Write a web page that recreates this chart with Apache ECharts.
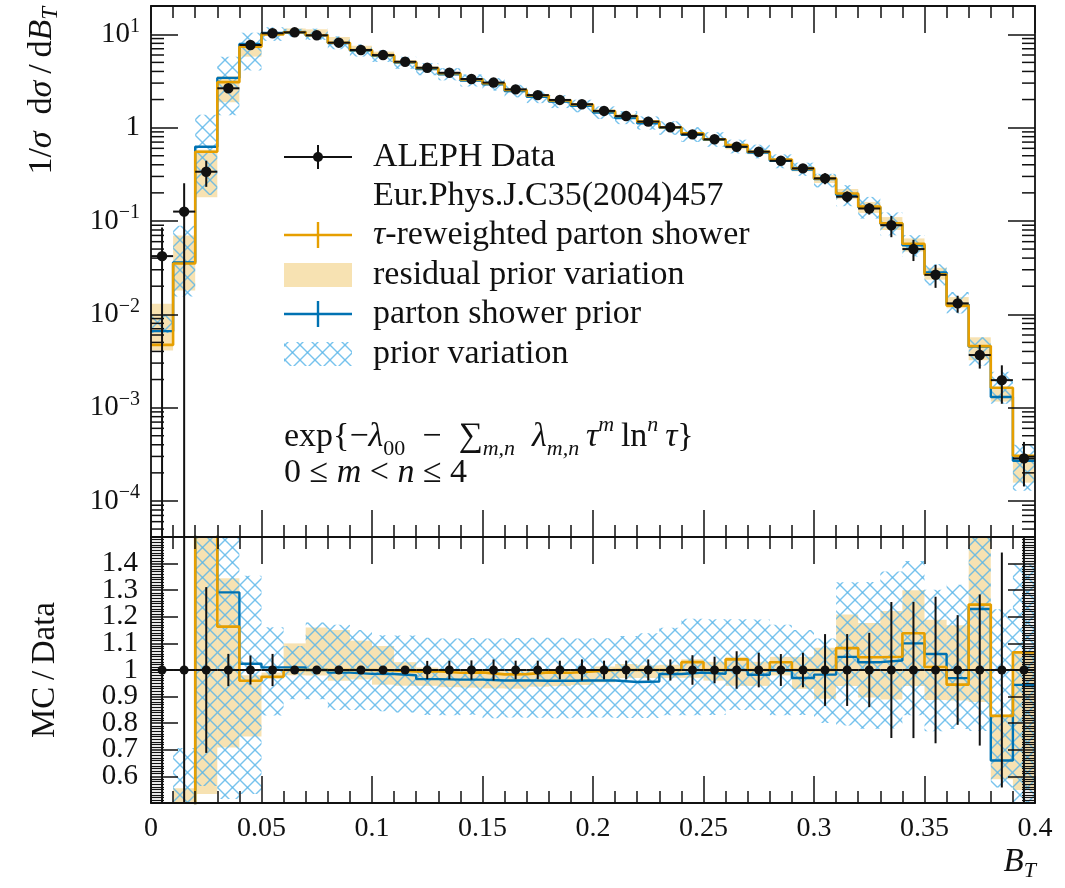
<!DOCTYPE html>
<html>
<head>
<meta charset="utf-8">
<script src="https://cdn.jsdelivr.net/npm/echarts/dist/echarts.min.js"></script>
<style>
  html, body { margin: 0; padding: 0; background: #ffffff; }
  #chart { width: 1065px; height: 888px; }
</style>
</head>
<body>
<div id="chart"></div>
<script>
// Thrust-broadening B_T distribution: ALEPH data vs. parton shower predictions

const binEdges = [0, 0.01, 0.02, 0.03, 0.04, 0.05, 0.06, 0.07, 0.08, 0.09, 0.1,
  0.11, 0.12, 0.13, 0.14, 0.15, 0.16, 0.17, 0.18, 0.19, 0.2,
  0.21, 0.22, 0.23, 0.24, 0.25, 0.26, 0.27, 0.28, 0.29, 0.3,
  0.31, 0.32, 0.33, 0.34, 0.35, 0.36, 0.37, 0.38, 0.39, 0.4];

// ALEPH Data, Eur.Phys.J.C35(2004)457
const dataVal = [0.042, 0.126, 0.337, 2.64, 7.68, 10.25, 10.5, 9.76, 8.13, 6.79,
  5.99, 5.08, 4.38, 3.87, 3.32, 3.04, 2.57, 2.23, 1.98, 1.78,
  1.51, 1.33, 1.16, 1.01, 0.847, 0.75, 0.624, 0.552, 0.442, 0.366,
  0.286, 0.182, 0.136, 0.090, 0.050, 0.0265, 0.0131, 0.00366, 0.00197, 0.000286];
const dataErr = [0.043, 0.128, 0.105, 0.16, 0.42, 0.62, 0.12, 0.1, 0.08, 0.07,
  0.06, 0.05, 0.15, 0.135, 0.12, 0.12, 0.09, 0.078, 0.069, 0.071,
  0.053, 0.047, 0.046, 0.04, 0.047, 0.0375, 0.044, 0.036, 0.0265, 0.0238,
  0.0386, 0.0246, 0.019, 0.023, 0.0128, 0.0073, 0.0027, 0.00104, 0.00087, 0.000143];

// tau-reweighted parton shower and its residual prior variation
const rwVal = [0.0047, 0.035, 0.552, 3.07, 7.37, 9.99, 10.5, 9.76, 8.13, 6.79,
  5.98, 5.05, 4.36, 3.83, 3.29, 2.99, 2.53, 2.21, 1.96, 1.77,
  1.51, 1.33, 1.16, 1.01, 0.872, 0.75, 0.649, 0.552, 0.455, 0.366,
  0.286, 0.197, 0.1425, 0.0945, 0.0569, 0.0268, 0.01238, 0.00456, 0.00163, 0.000305];
const rwLo = [0.0041, 0.018, 0.18, 1.87, 5.76, 9.9, 10.29, 9.56, 7.80, 6.55,
  5.66, 4.78, 4.12, 3.62, 3.10, 2.83, 2.39, 2.09, 1.86, 1.68,
  1.44, 1.29, 1.125, 0.98, 0.822, 0.72, 0.587, 0.519, 0.433, 0.340,
  0.255, 0.171, 0.122, 0.080, 0.047, 0.0235, 0.0116, 0.00322, 0.00116, 0.000157];
const rwHi = [0.013, 0.07, 0.58, 3.55, 7.53, 10.15, 11.55, 11.32, 9.35, 7.54,
  6.53, 5.23, 4.42, 3.87, 3.32, 3.04, 2.57, 2.23, 1.98, 1.78,
  1.53, 1.36, 1.18, 1.03, 0.881, 0.773, 0.655, 0.569, 0.464, 0.384,
  0.310, 0.220, 0.160, 0.110, 0.065, 0.0315, 0.0153, 0.00567, 0.00164, 0.000306];

// parton shower prior and its prior variation
const psVal = [0.0066, 0.036, 0.623, 3.41, 7.86, 10.35, 10.6, 9.76, 8.05, 6.69,
  5.90, 4.98, 4.23, 3.73, 3.20, 2.92, 2.47, 2.14, 1.90, 1.71,
  1.45, 1.27, 1.11, 0.995, 0.839, 0.739, 0.624, 0.542, 0.441, 0.355,
  0.281, 0.191, 0.140, 0.0932, 0.055, 0.0281, 0.0127, 0.0045, 0.0013, 0.00027];
const psLo = [0.0063, 0.0155, 0.19, 1.36, 4.1, 8.5, 9.35, 8.69, 6.91, 5.77,
  5.06, 4.27, 3.64, 3.21, 2.76, 2.49, 2.11, 1.83, 1.62, 1.46,
  1.24, 1.09, 0.951, 0.838, 0.703, 0.623, 0.530, 0.469, 0.367, 0.304,
  0.229, 0.144, 0.106, 0.0702, 0.0415, 0.0204, 0.0102, 0.00282, 0.0011, 0.000129];
const psHi = [0.0099, 0.089, 1.37, 5.75, 10.4, 11.9, 11.45, 11.5, 9.51, 7.81,
  6.77, 5.74, 4.91, 4.33, 3.72, 3.40, 2.88, 2.50, 2.22, 1.99,
  1.69, 1.50, 1.32, 1.17, 1.01, 0.893, 0.743, 0.657, 0.517, 0.421,
  0.320, 0.242, 0.181, 0.1233, 0.0705, 0.0345, 0.0173, 0.00567, 0.00242, 0.0004];

// axis tick labels
const xTickLabels = ['0', '0.05', '0.1', '0.15', '0.2', '0.25', '0.3', '0.35', '0.4'];
const ratioTickLabels = ['0.6', '0.7', '0.8', '0.9', '1', '1.1', '1.2', '1.3', '1.4'];
const decadeLabels = { '-4': '10{sup|−4}', '-3': '10{sup|−3}', '-2': '10{sup|−2}',
  '-1': '10{sup|−1}', '0': '1', '1': '10{sup|1}' };

const FONT = '"Liberation Serif", "DejaVu Serif", serif';
const INK = '#111111';
const ORANGE = '#E69F00';
const BLUE = '#0072B2';
const BEIGE = 'rgba(230,159,0,0.30)';

// cross-hatch tile for the prior variation band
const hatchTile = (function () {
  const s = 15;
  const c = document.createElement('canvas');
  c.width = s; c.height = s;
  const g = c.getContext('2d');
  g.strokeStyle = 'rgba(86,180,233,0.8)';
  g.lineWidth = 1.4;
  [-s, 0, s].forEach(function (d) {
    g.beginPath(); g.moveTo(d, 0); g.lineTo(d + s, s); g.stroke();
    g.beginPath(); g.moveTo(d + s, 0); g.lineTo(d, s); g.stroke();
  });
  return c;
})();
const HATCH = { image: hatchTile, repeat: 'repeat' };

// ---------- data shaping ----------
function stepData(vals, norm) {
  return binEdges.map(function (e, i) {
    const k = Math.min(i, vals.length - 1);
    return [e, norm ? vals[k] / dataVal[k] : vals[k]];
  });
}
function bandData(lo, hi, norm) {
  return lo.map(function (l, i) {
    return [binEdges[i], binEdges[i + 1],
      norm ? l / dataVal[i] : l, norm ? hi[i] / dataVal[i] : hi[i]];
  });
}
function pointData(norm) {
  return dataVal.map(function (v, i) {
    return [binEdges[i], binEdges[i + 1], norm ? 1 : v, norm ? dataErr[i] / v : dataErr[i]];
  });
}

// ---------- renderers ----------
function renderBand(fill) {
  return function (params, api) {
    const cs = params.coordSys;
    const a = api.coord([api.value(0), api.value(3)]);
    const b = api.coord([api.value(1), api.value(2)]);
    let yBot = b[1];
    if (!isFinite(yBot)) yBot = cs.y + cs.height;
    const r = echarts.graphic.clipRectByRect(
      { x: a[0], y: a[1], width: b[0] - a[0], height: yBot - a[1] },
      { x: cs.x, y: cs.y, width: cs.width, height: cs.height });
    if (!r) return null;
    return { type: 'rect', shape: r, style: { fill: fill } };
  };
}

function renderPoints(isLog, radius) {
  return function (params, api) {
    const cs = params.coordSys;
    const x0 = api.value(0), x1 = api.value(1), v = api.value(2), e = api.value(3);
    const xm = (x0 + x1) / 2;
    const c = api.coord([xm, v]);
    const l = api.coord([x0, v]);
    const r = api.coord([x1, v]);
    const yMin = cs.y, yMax = cs.y + cs.height;
    let yt = api.coord([xm, v + e])[1];
    let yb = (isLog && v - e <= 0) ? yMax : api.coord([xm, v - e])[1];
    yt = Math.max(yMin, Math.min(yMax, yt));
    yb = Math.max(yMin, Math.min(yMax, yb));
    const st = { stroke: INK, lineWidth: 2 };
    return {
      type: 'group',
      children: [
        { type: 'line', shape: { x1: l[0], y1: c[1], x2: r[0], y2: c[1] }, style: st },
        { type: 'line', shape: { x1: c[0], y1: yt, x2: c[0], y2: yb }, style: st },
        { type: 'circle', shape: { cx: c[0], cy: c[1], r: radius }, style: { fill: INK } }
      ]
    };
  };
}

// minor ticks 2..9 of each decade on both sides of the log panel
const logMinor = [];
for (let d = -5; d <= 1; d++) {
  for (let m = 2; m <= 9; m++) logMinor.push([0, m * Math.pow(10, d)]);
}
function renderLogMinor(params, api) {
  const cs = params.coordSys;
  const y = api.coord([0, api.value(1)])[1];
  if (!(y > cs.y + 1 && y < cs.y + cs.height - 1)) return null;
  const st = { stroke: INK, lineWidth: 1.5 };
  return {
    type: 'group',
    children: [
      { type: 'line', shape: { x1: cs.x, y1: y, x2: cs.x + 13, y2: y }, style: st },
      { type: 'line', shape: { x1: cs.x + cs.width - 13, y1: y, x2: cs.x + cs.width, y2: y }, style: st }
    ]
  };
}

// ---------- axes ----------
const lineSt = { color: INK, width: 1.8 };
const tickSt = { color: INK, width: 1.5 };

function xAxisCfg(grid, pos, labels) {
  return {
    type: 'value', gridIndex: grid, position: pos, min: 0, max: 0.4, interval: 0.05, z: 10,
    axisLine: { show: true, onZero: false, lineStyle: lineSt },
    axisTick: { show: true, inside: true, length: 27, lineStyle: tickSt },
    minorTick: { show: true, splitNumber: 5, length: 12, lineStyle: tickSt },
    splitLine: { show: false }, minorSplitLine: { show: false },
    axisLabel: labels ? {
      show: true, margin: 12, color: INK, fontFamily: FONT, fontSize: 28,
      formatter: function (v) { return xTickLabels[Math.round(v / 0.05)]; }
    } : { show: false }
  };
}

function logYAxisCfg(pos, labels) {
  return {
    type: 'log', logBase: 10, gridIndex: 0, position: pos, z: 10,
    min: 4.11e-5, max: 20.1,
    axisLine: { show: true, onZero: false, lineStyle: lineSt },
    axisTick: { show: true, inside: true, length: 27, lineStyle: tickSt },
    minorTick: { show: false },
    splitLine: { show: false },
    axisLabel: labels ? {
      show: true, margin: 11, color: INK, fontFamily: FONT, fontSize: 29, lineHeight: 36,
      showMinLabel: false, showMaxLabel: false,
      formatter: function (v) {
        const e = Math.log10(v);
        const k = Math.round(e);
        if (Math.abs(e - k) > 1e-6) return '';
        return decadeLabels[String(k)] || '';
      },
      rich: { sup: { fontFamily: FONT, fontSize: 20, verticalAlign: 'top', lineHeight: 20, color: INK } }
    } : { show: false }
  };
}

function ratioYAxisCfg(pos, labels) {
  return {
    type: 'value', gridIndex: 1, position: pos, min: 0.5, max: 1.5, interval: 0.1, z: 10,
    axisLine: { show: true, onZero: false, lineStyle: lineSt },
    axisTick: { show: true, inside: true, length: 27, lineStyle: tickSt },
    minorTick: { show: true, splitNumber: 10, length: 13, lineStyle: { color: INK, width: 1.2 } },
    splitLine: { show: false }, minorSplitLine: { show: false },
    axisLabel: labels ? {
      show: true, margin: 13, color: INK, fontFamily: FONT, fontSize: 29,
      formatter: function (v) {
        const k = Math.round((v - 0.6) / 0.1);
        if (v < 0.55 || v > 1.45) return '';
        return ratioTickLabels[k] || '';
      }
    } : { show: false }
  };
}

// ---------- series ----------
const series = [];
function addPanel(xi, yi, norm, isLog) {
  series.push({
    type: 'custom', xAxisIndex: xi, yAxisIndex: yi, z: 2, silent: true,
    renderItem: renderBand(BEIGE), data: bandData(rwLo, rwHi, norm),
    encode: { x: [0, 1], y: [2, 3] }
  });
  series.push({
    type: 'custom', xAxisIndex: xi, yAxisIndex: yi, z: 3, silent: true,
    renderItem: renderBand(HATCH), data: bandData(psLo, psHi, norm),
    encode: { x: [0, 1], y: [2, 3] }
  });
  series.push({
    type: 'line', xAxisIndex: xi, yAxisIndex: yi, z: 4, silent: true,
    step: 'end', showSymbol: false, symbol: 'none',
    lineStyle: { color: BLUE, width: 2.4 }, data: stepData(psVal, norm)
  });
  series.push({
    type: 'line', xAxisIndex: xi, yAxisIndex: yi, z: 5, silent: true,
    step: 'end', showSymbol: false, symbol: 'none',
    lineStyle: { color: ORANGE, width: 2.6 }, data: stepData(rwVal, norm)
  });
  series.push({
    type: 'custom', xAxisIndex: xi, yAxisIndex: yi, z: 6, silent: true,
    renderItem: renderPoints(isLog, norm ? 4.5 : 5.2), data: pointData(norm),
    encode: { x: [0, 1], y: [2] }
  });
}
addPanel(0, 0, false, true);
addPanel(2, 2, true, false);
series.push({
  type: 'custom', xAxisIndex: 0, yAxisIndex: 0, z: 11, silent: true,
  renderItem: renderLogMinor, data: logMinor, encode: { x: 0, y: 1 }
});

// ---------- legend and annotations ----------
const FS = 34;
const TXT = { fontFamily: FONT, fontSize: FS, fill: INK, verticalAlign: 'middle', align: 'left' };
function txt(x, y, text, extra) {
  return { type: 'text', x: x, y: y, z: 20, style: Object.assign({ text: text }, TXT, extra || {}) };
}
const italic = { fontFamily: FONT, fontStyle: 'italic', fontSize: FS, fill: INK };
const hx0 = 284, hx1 = 352, hxm = 318, tx = 373;
const rowY = [157, 196, 235, 275, 314, 354];

const graphics = [
  // ALEPH Data handle
  { type: 'line', z: 20, shape: { x1: hx0, y1: rowY[0], x2: hx1, y2: rowY[0] }, style: { stroke: INK, lineWidth: 2 } },
  { type: 'line', z: 20, shape: { x1: hxm, y1: rowY[0] - 12, x2: hxm, y2: rowY[0] + 12 }, style: { stroke: INK, lineWidth: 2 } },
  { type: 'circle', z: 20, shape: { cx: hxm, cy: rowY[0], r: 5 }, style: { fill: INK } },
  txt(tx, rowY[0], 'ALEPH Data'),
  txt(tx, rowY[1], 'Eur.Phys.J.C35(2004)457'),
  // reweighted shower handle
  { type: 'line', z: 20, shape: { x1: hx0, y1: rowY[2], x2: hx1, y2: rowY[2] }, style: { stroke: ORANGE, lineWidth: 2.4 } },
  { type: 'line', z: 20, shape: { x1: hxm, y1: rowY[2] - 13, x2: hxm, y2: rowY[2] + 13 }, style: { stroke: ORANGE, lineWidth: 2.4 } },
  txt(tx, rowY[2], '{i|τ}-reweighted parton shower', { rich: { i: italic } }),
  // residual band handle
  { type: 'rect', z: 20, shape: { x: hx0, y: rowY[3] - 12, width: hx1 - hx0, height: 24 }, style: { fill: BEIGE } },
  txt(tx, rowY[3], 'residual prior variation'),
  // prior handle
  { type: 'line', z: 20, shape: { x1: hx0, y1: rowY[4], x2: hx1, y2: rowY[4] }, style: { stroke: BLUE, lineWidth: 2.4 } },
  { type: 'line', z: 20, shape: { x1: hxm, y1: rowY[4] - 13, x2: hxm, y2: rowY[4] + 13 }, style: { stroke: BLUE, lineWidth: 2.4 } },
  txt(tx, rowY[4], 'parton shower prior'),
  // prior variation handle
  { type: 'rect', z: 20, shape: { x: hx0, y: rowY[5] - 12, width: hx1 - hx0, height: 24 }, style: { fill: HATCH } },
  txt(tx, rowY[5], 'prior variation'),
  // weight function
  txt(284, 437, 'exp{−{i|λ}{sub|00}\u2002−\u2002∑{isub|m,n}\u2002{i|λ}{isub|m,n}\u2009{i|τ}{isup|m}\u2009ln{isup|n}\u2009{i|τ}}', {
    lineHeight: 46,
    rich: {
      i: Object.assign({}, italic, { lineHeight: 46 }),
      sub: { fontFamily: FONT, fontSize: 22, fill: INK, verticalAlign: 'bottom', lineHeight: 22 },
      isub: { fontFamily: FONT, fontStyle: 'italic', fontSize: 22, fill: INK, verticalAlign: 'bottom', lineHeight: 22 },
      isup: { fontFamily: FONT, fontStyle: 'italic', fontSize: 22, fill: INK, verticalAlign: 'top', lineHeight: 22 }
    }
  }),
  txt(284, 473, '0 ≤ {i|m} < {i|n} ≤ 4', { rich: { i: italic } }),
  // axis titles
  {
    type: 'text', x: 42, y: 7, rotation: Math.PI / 2, z: 20,
    style: {
      text: '1/{i|σ}\u2002d{i|σ}\u2009/\u2009d{i|B}{sub|T}', fontFamily: FONT, fontSize: 34, fill: INK,
      align: 'right', verticalAlign: 'middle', lineHeight: 40,
      rich: {
        i: Object.assign({}, italic, { lineHeight: 40 }),
        sub: { fontFamily: FONT, fontStyle: 'italic', fontSize: 23, fill: INK, verticalAlign: 'bottom', lineHeight: 23 }
      }
    }
  },
  {
    type: 'text', x: 45, y: 670, rotation: Math.PI / 2, z: 20,
    style: { text: 'MC\u2009/\u2009Data', fontFamily: FONT, fontSize: 33, fill: INK, align: 'center', verticalAlign: 'middle' }
  },
  {
    type: 'text', x: 1036, y: 862, z: 20,
    style: {
      text: '{i|B}{sub|T}', fontFamily: FONT, fontSize: 33, fill: INK, align: 'right', verticalAlign: 'middle',
      lineHeight: 40,
      rich: {
        i: Object.assign({}, italic, { fontSize: 33, lineHeight: 40 }),
        sub: { fontFamily: FONT, fontStyle: 'italic', fontSize: 22, fill: INK, verticalAlign: 'bottom', lineHeight: 22 }
      }
    }
  }
];

const chart = echarts.init(document.getElementById('chart'), null, { renderer: 'canvas' });
chart.setOption({
  animation: false,
  backgroundColor: '#ffffff',
  grid: [
    { left: 151, top: 6, width: 884, height: 531, show: false },
    { left: 151, top: 537, width: 884, height: 266, show: false }
  ],
  xAxis: [
    xAxisCfg(0, 'bottom', false),
    xAxisCfg(0, 'top', false),
    xAxisCfg(1, 'bottom', true),
    xAxisCfg(1, 'top', false)
  ],
  yAxis: [
    logYAxisCfg('left', true),
    logYAxisCfg('right', false),
    ratioYAxisCfg('left', true),
    ratioYAxisCfg('right', false)
  ],
  series: series,
  graphic: graphics
});
</script>
</body>
</html>
